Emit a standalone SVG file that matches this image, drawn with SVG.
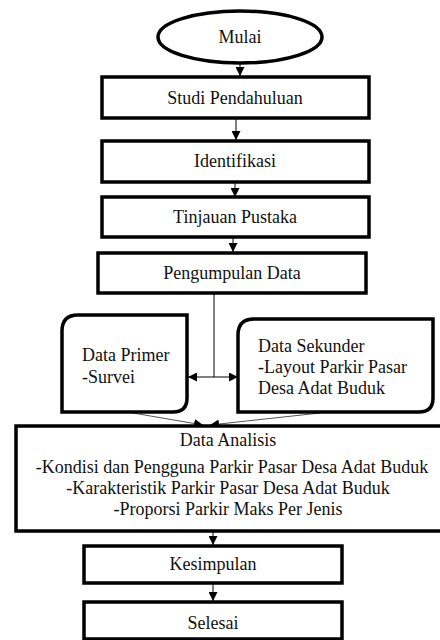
<svg xmlns="http://www.w3.org/2000/svg" width="440" height="640" viewBox="0 0 440 640">
<defs>
<style>
.box{fill:#fff;stroke:#000;stroke-width:3.5}
text{font-family:'Liberation Serif','Times New Roman',Tinos,'DejaVu Serif',serif;font-size:18px;fill:#111}
.c{text-anchor:middle}
.ln{fill:none;stroke:#000;stroke-width:1}
.thin{fill:none;stroke:#555;stroke-width:1}
</style>
<marker id="ah" viewBox="0 0 10 10" refX="10" refY="5" markerWidth="9" markerHeight="9" markerUnits="userSpaceOnUse" orient="auto">
<path d="M0,0 L10,5 L0,10 Z" fill="#000"/>
</marker>
</defs>
<rect width="440" height="640" fill="#fff"/>
<g id="connectors">
<line class="ln" x1="240" y1="63" x2="240" y2="76" marker-end="url(#ah)"/>
<line class="ln" x1="236" y1="118" x2="236" y2="140" marker-end="url(#ah)"/>
<line class="ln" x1="235" y1="182" x2="235" y2="197" marker-end="url(#ah)"/>
<line class="ln" x1="233" y1="237" x2="233" y2="252" marker-end="url(#ah)"/>
<line class="ln" x1="214" y1="293" x2="214" y2="377"/>
<line class="ln" x1="214" y1="377" x2="188" y2="377" marker-end="url(#ah)"/>
<line class="ln" x1="214" y1="377" x2="238" y2="377" marker-end="url(#ah)"/>
<line class="thin" x1="133" y1="413" x2="203" y2="425" marker-end="url(#ah)"/>
<line class="thin" x1="320" y1="413" x2="210" y2="425" marker-end="url(#ah)"/>
<line class="ln" x1="213" y1="532" x2="213" y2="545" marker-end="url(#ah)"/>
<line class="ln" x1="213" y1="584" x2="213" y2="601" marker-end="url(#ah)"/>
</g>
<g id="mulai" font-family="Liberation Serif, serif">
<ellipse class="box" cx="240" cy="37" rx="82" ry="26"/>
<text class="c" x="240" y="43">Mulai</text>
</g>
<g id="studi">
<rect class="box" x="102" y="77" width="267" height="41"/>
<text class="c" x="235" y="104">Studi Pendahuluan</text>
</g>
<g id="identifikasi">
<rect class="box" x="102" y="141" width="267" height="41"/>
<text class="c" x="235" y="167">Identifikasi</text>
</g>
<g id="tinjauan">
<rect class="box" x="102" y="197" width="267" height="40"/>
<text class="c" x="235" y="223">Tinjauan Pustaka</text>
</g>
<g id="pengumpulan">
<rect class="box" x="98" y="253" width="268" height="40"/>
<text class="c" x="232" y="279">Pengumpulan Data</text>
</g>
<g id="primer">
<path class="box" d="M62,412 L62,331 Q62,315 78,315 L187,315 L187,398 Q187,412 173,412 Z"/>
<text x="82" y="361">Data Primer</text>
<text x="82" y="383">-Survei</text>
</g>
<g id="sekunder">
<path class="box" d="M238,412 L238,335 Q238,319 254,319 L433,319 L433,398 Q433,412 419,412 Z"/>
<text x="258" y="352">Data Sekunder</text>
<text x="258" y="373">-Layout Parkir Pasar</text>
<text x="258" y="394">Desa Adat Buduk</text>
</g>
<g id="analisis">
<rect class="box" x="16" y="426" width="428" height="105"/>
<text class="c" x="228" y="446">Data Analisis</text>
<text class="c" x="232" y="473">-Kondisi dan Pengguna Parkir Pasar Desa Adat Buduk</text>
<text class="c" x="228" y="494">-Karakteristik Parkir Pasar Desa Adat Buduk</text>
<text class="c" x="228" y="515">-Proporsi Parkir Maks Per Jenis</text>
</g>
<g id="kesimpulan">
<rect class="box" x="84" y="546" width="258" height="37"/>
<text class="c" x="213" y="570">Kesimpulan</text>
</g>
<g id="selesai">
<rect class="box" x="84" y="602" width="258" height="37"/>
<text class="c" x="213" y="629">Selesai</text>
</g>
</svg>
